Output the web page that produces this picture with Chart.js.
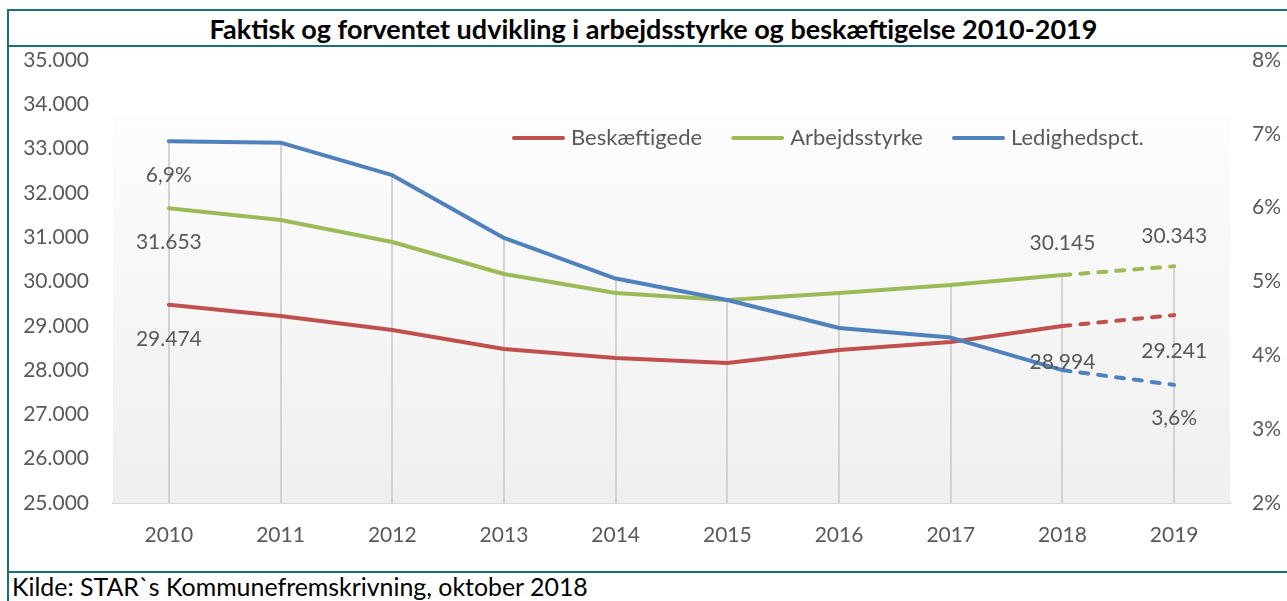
<!DOCTYPE html>
<html lang="da">
<head>
<meta charset="utf-8">
<title>Faktisk og forventet udvikling i arbejdsstyrke og beskæftigelse 2010-2019</title>
<script src="https://cdn.jsdelivr.net/npm/chart.js@4.4.1/dist/chart.umd.min.js"></script>
<style>
  html, body { margin: 0; padding: 0; background: #fff; }
  body { width: 1287px; height: 601px; position: relative; overflow: hidden; font-family: Lato, "Open Sans", sans-serif; }
  .line { position: absolute; background: #1b6f74; }
  .title { position: absolute; left: 9px; top: 11px; width: 1287px; height: 34px; line-height: 36px;
           text-align: center; font-weight: bold; font-size: 27px; color: #000; }
  .title span { position: relative; left: 1px; }
  .plot { position: absolute; left: 9px; top: 47px; width: 1278px; height: 524px; }
  .source { position: absolute; left: 12px; top: 572px; font-size: 24.9px; line-height: 29px; color: #000; }
</style>
</head>
<body>
<div class="line" style="left:7px;top:9px;width:1290px;height:2px"></div>
<div class="line" style="left:7px;top:9px;width:2px;height:592px"></div>
<div class="line" style="left:7px;top:45px;width:1290px;height:2px"></div>
<div class="line" style="left:7px;top:571px;width:1290px;height:2px"></div>
<div class="title"><span>Faktisk og forventet udvikling i arbejdsstyrke og beskæftigelse 2010-2019</span></div>
<div class="plot"><canvas id="udviklingChart"></canvas></div>
<div class="source">Kilde: STAR`s Kommunefremskrivning, oktober 2018</div>

<script>
// --- data ---
const years = ['2010', '2011', '2012', '2013', '2014', '2015', '2016', '2017', '2018', '2019'];
const beskaeftigede = [29474, 29221, 28905, 28476, 28273, 28160, 28454, 28634, 28994, 29241];
const arbejdsstyrke = [31653, 31388, 30892, 30169, 29740, 29582, 29740, 29921, 30145, 30343];
const ledighedspct = [6.9, 6.88, 6.44, 5.59, 5.04, 4.75, 4.37, 4.24, 3.8, 3.6];
const leftTicks = [25000, 35000, 1000];
const rightTicks = [2, 8, 1];
const forecastFrom = 8; // 2018 -> 2019 is prognose

const labelFont = '21px Lato, "Open Sans", sans-serif';
const legendFont = '22px Lato, "Open Sans", sans-serif';
const tickColor = '#595959';

const fmtNum = v => String(Math.round(v)).replace(/\B(?=(\d{3})+(?!\d))/g, '.');
const fmtPct = v => v.toFixed(1).replace('.', ',') + '%';

const dashed = ctx => ctx.p0DataIndex >= forecastFrom ? [8, 10] : undefined;

// grey gradient behind the plot
const plotBackground = {
    id: 'plotBackground',
    beforeDatasetsDraw(chart) {
        const { ctx, chartArea: a } = chart;
        const top = a.top + 57;
        const g = ctx.createLinearGradient(0, top, 0, a.bottom);
        g.addColorStop(0, '#fdfdfd');
        g.addColorStop(1, '#efefef');
        ctx.save();
        ctx.fillStyle = g;
        ctx.fillRect(a.left, top, a.right - a.left, a.bottom - top);
        ctx.restore();
    }
};

// Excel style drop lines from the highest point down to the axis
const dropLines = {
    id: 'dropLines',
    beforeDatasetsDraw(chart) {
        const { ctx, chartArea: a } = chart;
        const metas = chart.data.datasets.map((d, i) => chart.getDatasetMeta(i));
        ctx.save();
        ctx.strokeStyle = '#d3d3d3';
        ctx.lineWidth = 2;
        years.forEach((y, i) => {
            const top = Math.min(...metas.map(m => m.data[i].y));
            const x = Math.round(metas[0].data[i].x);
            ctx.beginPath();
            ctx.moveTo(x, top);
            ctx.lineTo(x, a.bottom);
            ctx.stroke();
        });
        ctx.restore();
    }
};

// value labels on selected points
const pointLabels = {
    id: 'pointLabels',
    afterDatasetsDraw(chart) {
        const ctx = chart.ctx;
        ctx.save();
        ctx.font = labelFont;
        ctx.fillStyle = tickColor;
        ctx.textAlign = 'center';
        ctx.textBaseline = 'middle';
        chart.data.datasets.forEach((ds, i) => {
            const meta = chart.getDatasetMeta(i);
            (ds.valueLabels || []).forEach(([idx, dy]) => {
                const pt = meta.data[idx];
                ctx.fillText(ds.fmt(ds.data[idx]), pt.x, pt.y + dy);
            });
        });
        ctx.restore();
    }
};

// legend inside the plot area
const innerLegend = {
    id: 'innerLegend',
    afterDraw(chart) {
        const ctx = chart.ctx;
        const a = chart.chartArea;
        const items = [2, 1, 0].map(i => chart.data.datasets.find(d => d.legendPos === i));
        let x = a.left + 399;
        const y = a.top + 78;
        ctx.save();
        ctx.font = legendFont;
        ctx.textBaseline = 'middle';
        ctx.lineCap = 'round';
        items.forEach(ds => {
            ctx.strokeStyle = ds.borderColor;
            ctx.lineWidth = 4;
            ctx.beginPath();
            ctx.moveTo(x + 2, y);
            ctx.lineTo(x + 51, y);
            ctx.stroke();
            ctx.fillStyle = tickColor;
            ctx.fillText(ds.label, x + 59, y);
            x += 59 + ctx.measureText(ds.label).width + 29;
        });
        ctx.restore();
    }
};

const lineStyle = {
    borderWidth: 4,
    pointRadius: 0,
    tension: 0,
    borderCapStyle: 'round',
    borderJoinStyle: 'round',
    fill: false,
    segment: { borderDash: dashed }
};

// invisible tick marks give the label offset without adding vertical padding
const hiddenGrid = len => ({
    display: true,
    drawOnChartArea: false,
    drawTicks: true,
    tickLength: len,
    color: 'rgba(0,0,0,0)'
});

new Chart(document.getElementById('udviklingChart'), {
    type: 'line',
    data: {
        labels: years,
        datasets: [
            Object.assign({
                label: 'Beskæftigede',
                data: beskaeftigede,
                borderColor: '#c0504d',
                yAxisID: 'y',
                order: 3,
                legendPos: 2,
                fmt: fmtNum,
                valueLabels: [[0, 34], [8, 36], [9, 36]]
            }, lineStyle),
            Object.assign({
                label: 'Arbejdsstyrke',
                data: arbejdsstyrke,
                borderColor: '#9bbb59',
                yAxisID: 'y',
                order: 2,
                legendPos: 1,
                fmt: fmtNum,
                valueLabels: [[0, 34], [8, -32], [9, -30]]
            }, lineStyle),
            Object.assign({
                label: 'Ledighedspct.',
                data: ledighedspct,
                borderColor: '#4f81bd',
                yAxisID: 'y1',
                order: 1,
                legendPos: 0,
                fmt: fmtPct,
                valueLabels: [[0, 34], [9, 33]]
            }, lineStyle)
        ]
    },
    options: {
        responsive: true,
        maintainAspectRatio: false,
        animation: false,
        layout: { padding: { top: 13, left: 0, right: 0, bottom: 0 } },
        plugins: {
            legend: { display: false },
            tooltip: { enabled: false }
        },
        scales: {
            x: {
                offset: true,
                grid: { display: false, drawTicks: false },
                border: { display: true, color: '#d9d9d9', width: 2 },
                ticks: { color: tickColor, font: { family: 'Lato', size: 21 }, padding: 20, maxRotation: 0 },
                afterFit: s => { s.height = 68; }
            },
            y: {
                position: 'left',
                min: leftTicks[0],
                max: leftTicks[1],
                grid: hiddenGrid(24),
                border: { display: false },
                ticks: {
                    stepSize: leftTicks[2],
                    color: tickColor,
                    font: { family: 'Lato', size: 21 },
                    padding: 0,
                    callback: v => fmtNum(v)
                },
                afterFit: s => { s.width = 104; }
            },
            y1: {
                position: 'right',
                min: rightTicks[0],
                max: rightTicks[1],
                grid: hiddenGrid(22),
                border: { display: false },
                ticks: {
                    stepSize: rightTicks[2],
                    color: tickColor,
                    font: { family: 'Lato', size: 21 },
                    padding: 0,
                    callback: v => v + '%'
                },
                afterFit: s => { s.width = 57; }
            }
        }
    },
    plugins: [plotBackground, dropLines, pointLabels, innerLegend]
});
</script>
</body>
</html>
